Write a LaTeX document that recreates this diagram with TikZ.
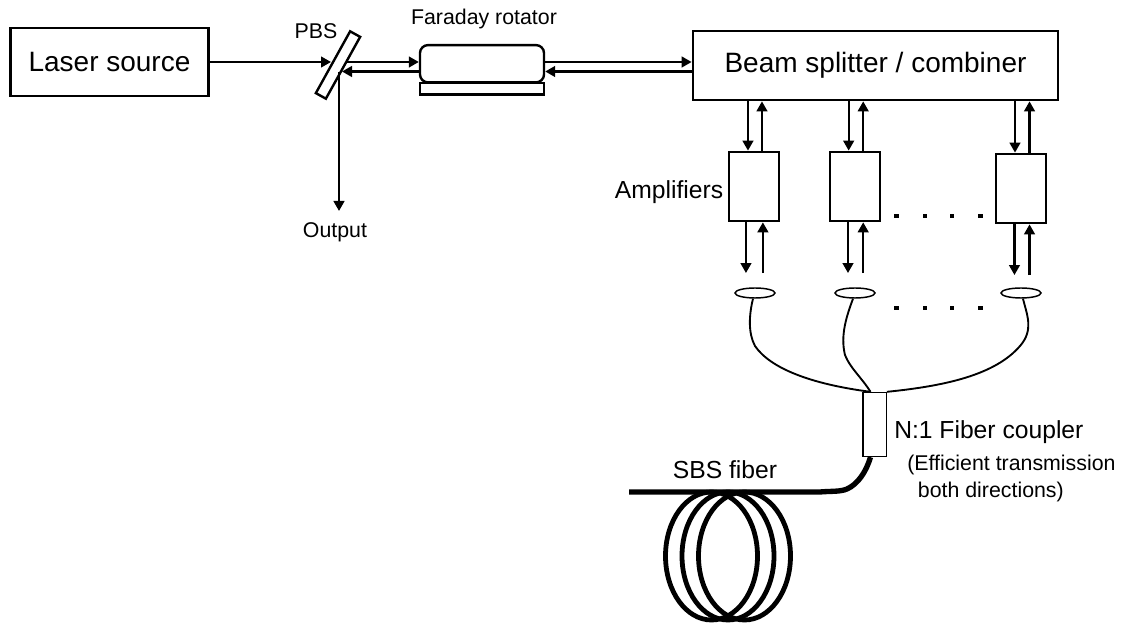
\documentclass[tikz,border=0pt]{standalone}
\usepackage{fontspec}
\setmainfont{Liberation Sans}
\usetikzlibrary{positioning, arrows.meta, shapes.geometric}

\begin{document}
\begin{tikzpicture}[
        x=0.75pt, y=-0.75pt,
        block/.style={rectangle, draw=black, line width=1.8pt, fill=white, inner sep=0pt},
        bigtext/.style={font=\fontsize{21}{25}\selectfont},
        midtext/.style={font=\fontsize{18.5}{22}\selectfont, inner sep=0pt},
        smalltext/.style={font=\fontsize{16}{20}\selectfont, inner sep=0pt},
        amp/.style={block, minimum width=37.5pt, minimum height=52pt},
        lens/.style={ellipse, draw=black, line width=1.1pt, fill=white, minimum width=30pt, minimum height=7.5pt, inner sep=0pt},
        coil/.style={ellipse, draw=black, line width=3.6pt, minimum width=69pt, minimum height=96pt, inner sep=0pt},
        dotmark/.style={rectangle, fill=black, minimum size=3.6pt, inner sep=0pt},
        arrow/.style={-{Triangle[length=7.5pt, width=8pt]}, line width=1.7pt},
        fiber/.style={line width=1.4pt},
        sbsline/.style={line width=4pt}
    ]
        \useasboundingbox (0,0) rectangle (1122,623);

        % Nodes
        \node[block, bigtext, minimum width=148.5pt, minimum height=51.4pt] (laser) at (109.5,62) {Laser source};
        \node[block, minimum width=53pt, minimum height=8.6pt, rotate=61] (pbs) at (338,65) {};
        \node[block, rounded corners=6pt, minimum width=93pt, minimum height=28pt] (faraday) at (482,63.75) {};
        \node[block, minimum width=93pt, minimum height=8.6pt] (base) at (482,88.75) {};
        \node[block, bigtext, minimum width=274pt, minimum height=52pt] (split) at (875.5,65.5) {Beam splitter / combiner};

        \node[amp] (amp1) at (753.7,186.5) {};
        \node[amp] (amp2) at (855.2,186.5) {};
        \node[amp] (amp3) at (1021,188.5) {};

        \node[lens] (lens1) at (755,293) {};
        \node[lens] (lens2) at (855,293) {};
        \node[lens] (lens3) at (1021,293) {};

        \node[block, line width=1pt, minimum width=17.5pt, minimum height=48pt] (coupler) at (874.5,424.5) {};

        \node[coil] (coil1) at (711.5,556) {};
        \node[coil] (coil2) at (728,556) {};
        \node[coil] (coil3) at (744.5,556) {};

        \foreach \x [count=\i] in {896.7,925,952,980.5} {
            \node[dotmark] (upper\i) at (\x,216) {};
            \node[dotmark] (lower\i) at (\x,308) {};
        }

        % Labels
        \node[smalltext] (pbslabel) at (316,31) {PBS};
        \node[smalltext] (farlabel) at (484,19) {Faraday rotator};
        \node[smalltext] (outlabel) at (335,232) {Output};
        \node[midtext] (amplabel) at (669,192) {Amplifiers};
        \node[midtext, anchor=west] (couplabel) at (894,432) {N:1 Fiber coupler};
        \node[midtext] (sbslabel) at (725,470) {SBS fiber};
        \node[smalltext, anchor=north west, align=left] (efflabel) at (907,455) {(Efficient transmission\\\hspace*{8pt}both directions)};

        % Free ends
        \coordinate (pbsin) at (331,62);
        \coordinate (pbsout) at (347,62);
        \coordinate (pbsback) at (342,71.5);
        \coordinate (outstart) at (339,72);
        \coordinate (outend) at (339,211);
        \coordinate (sbsstart) at (629,492);

        % Paths
        \draw[arrow] (laser.east |- pbsin) -- (pbsin);
        \draw[arrow] (pbsout) -- (faraday.west |- pbsout);
        \draw[arrow] (faraday.west |- pbsback) -- (pbsback);
        \draw[arrow] (outstart) -- (outend);
        \draw[arrow] (faraday.east |- pbsin) -- (split.west |- pbsin);
        \draw[arrow] (split.west |- pbsback) -- (faraday.east |- pbsback);

        \foreach \n/\a/\b/\c/\d in {1/-4.3/6.2/-5.8/6.9, 2/-4.9/6/-5.4/6, 3/-4.5/6.4/-4.9/6.4} {
            \draw[arrow] ([xshift=\a pt]amp\n.north |- split.south) -- ([xshift=\a pt]amp\n.north);
            \draw[arrow] ([xshift=\b pt]amp\n.north) -- ([xshift=\b pt]amp\n.north |- split.south);
            \draw[arrow] ([xshift=\c pt]amp\n.south) -- ([xshift=\c pt, yshift=-38pt]amp\n.south);
            \draw[arrow] ([xshift=\d pt, yshift=-38pt]amp\n.south) -- ([xshift=\d pt]amp\n.south);
        }

        \draw[fiber] ([xshift=-1.5pt]lens1.south) .. controls (749,315) and (748,333) .. (755,346) .. controls (770,368) and (810,384) .. ([xshift=-3pt]coupler.north);
        \draw[fiber] ([xshift=-1.5pt]lens2.south) .. controls (847,315) and (840,335) .. (845,355) .. controls (850,368) and (862,378) .. ([xshift=-3pt]coupler.north);
        \draw[fiber] ([xshift=1.5pt]lens3.south) .. controls (1027,315) and (1034,330) .. (1020,346) .. controls (995,375) and (945,386) .. (coupler.north east);

        \draw[sbsline] (sbsstart) -- (820,492) .. controls (830,491) and (840,492) .. (847,489) .. controls (858,484) and (866,472) .. ([xshift=-3pt]coupler.south);
    \end{tikzpicture}
\end{document}
